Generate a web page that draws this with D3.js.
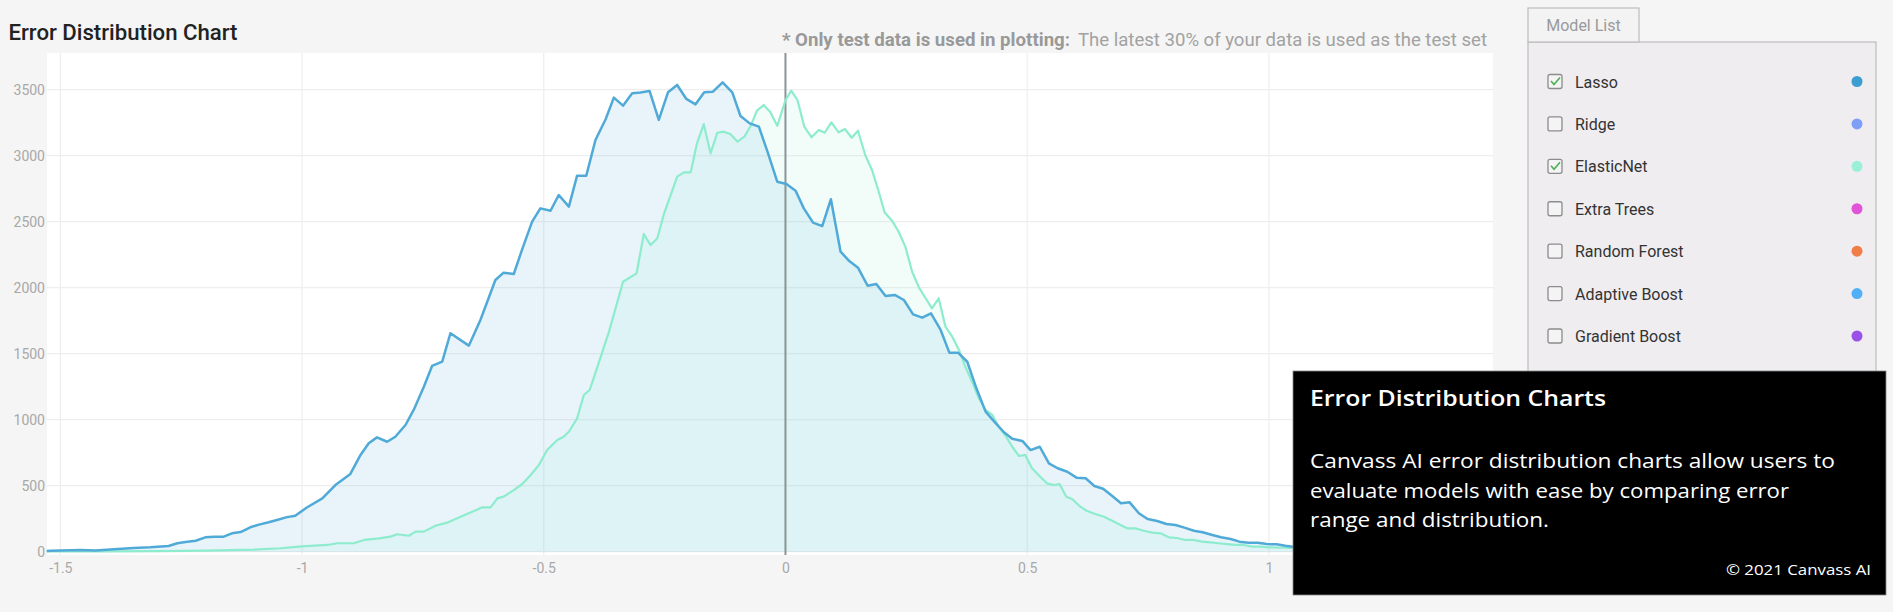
<!DOCTYPE html>
<html>
<head>
<meta charset="utf-8">
<script src="https://cdn.jsdelivr.net/npm/d3@7/dist/d3.min.js"></script>
<style>
  html, body { margin: 0; padding: 0; background: #f5f5f5; }
  svg { display: block; }
</style>
</head>
<body>
<svg id="chart" width="1893" height="612"></svg>
<script>
// ---------- DATA ----------
const xTicks = [-1.5, -1, -0.5, 0, 0.5, 1];
const yTicks = [0, 500, 1000, 1500, 2000, 2500, 3000, 3500];

const lassoErr = [-1.528,-1.520,-1.458,-1.427,-1.389,-1.348,-1.314,-1.276,-1.258,-1.241,-1.220,-1.200,-1.182,-1.162,-1.145,-1.127,-1.107,-1.089,-1.069,-1.052,-1.031,-1.014,-0.990,-0.958,-0.931,-0.900,-0.879,-0.862,-0.845,-0.824,-0.807,-0.786,-0.769,-0.748,-0.731,-0.710,-0.693,-0.655,-0.631,-0.600,-0.583,-0.562,-0.545,-0.524,-0.507,-0.486,-0.469,-0.448,-0.431,-0.412,-0.393,-0.372,-0.355,-0.336,-0.317,-0.300,-0.281,-0.262,-0.243,-0.224,-0.205,-0.186,-0.168,-0.150,-0.130,-0.110,-0.093,-0.074,-0.055,-0.036,-0.017,0.002,0.021,0.038,0.057,0.076,0.094,0.114,0.132,0.150,0.170,0.188,0.207,0.226,0.245,0.264,0.283,0.301,0.321,0.339,0.357,0.376,0.395,0.414,0.432,0.452,0.469,0.490,0.507,0.526,0.545,0.563,0.583,0.602,0.621,0.639,0.657,0.676,0.694,0.712,0.731,0.749,0.769,0.788,0.807,0.825,0.845,0.863,0.883,0.901,0.921,0.939,0.958,0.977,0.996,1.016,1.034,1.050,1.070,1.100,1.140,1.180,1.220,1.260,1.300,1.340,1.380,1.420,1.465];
const lassoCount = [5,8,13,10,18,28,33,43,64,73,83,109,114,114,139,149,185,205,223,240,262,272,335,404,505,589,733,821,866,833,871,960,1074,1250,1407,1440,1655,1561,1755,2058,2114,2104,2286,2500,2601,2583,2702,2614,2849,2849,3119,3276,3440,3379,3473,3478,3490,3271,3480,3536,3430,3389,3480,3485,3556,3480,3301,3245,3220,3018,2803,2786,2735,2601,2493,2467,2670,2273,2202,2152,2015,2028,1937,1945,1907,1798,1773,1806,1680,1508,1508,1439,1238,1061,985,905,855,839,770,795,669,632,606,561,556,498,477,422,367,374,291,248,233,210,202,182,159,147,127,109,96,76,68,68,58,56,45,38,34,28,22,18,14,11,9,7,5,4,3];

const elasticErr = [-1.528,-1.400,-1.300,-1.200,-1.100,-1.045,-1.000,-0.948,-0.927,-0.893,-0.872,-0.841,-0.817,-0.803,-0.779,-0.765,-0.748,-0.724,-0.700,-0.672,-0.648,-0.627,-0.610,-0.596,-0.583,-0.562,-0.545,-0.527,-0.510,-0.493,-0.472,-0.459,-0.448,-0.431,-0.417,-0.405,-0.390,-0.365,-0.336,-0.308,-0.293,-0.279,-0.265,-0.252,-0.224,-0.210,-0.196,-0.183,-0.169,-0.155,-0.141,-0.128,-0.114,-0.099,-0.085,-0.071,-0.059,-0.045,-0.031,-0.017,0.000,0.012,0.025,0.039,0.054,0.069,0.081,0.095,0.110,0.123,0.137,0.150,0.165,0.179,0.193,0.205,0.221,0.234,0.248,0.262,0.276,0.290,0.303,0.317,0.331,0.345,0.359,0.372,0.386,0.400,0.414,0.428,0.441,0.455,0.469,0.483,0.496,0.510,0.527,0.541,0.555,0.567,0.581,0.593,0.610,0.624,0.641,0.659,0.676,0.693,0.707,0.724,0.741,0.759,0.776,0.793,0.810,0.827,0.845,0.862,0.879,0.896,0.914,0.931,0.948,0.965,0.983,1.000,1.034,1.100,1.200,1.300,1.400,1.465];
const elasticCount = [2,3,5,8,15,26,40,51,64,64,89,101,114,132,121,152,152,197,220,265,303,336,336,404,417,467,511,581,657,770,846,871,909,1010,1187,1225,1389,1667,2045,2109,2407,2323,2374,2551,2841,2874,2874,3094,3240,3018,3174,3182,3164,3106,3144,3233,3341,3384,3330,3226,3420,3493,3420,3220,3139,3195,3174,3253,3177,3202,3136,3189,3005,2892,2727,2571,2505,2424,2311,2121,2003,1920,1844,1920,1705,1629,1528,1402,1288,1162,1074,1036,947,880,795,725,733,632,568,518,505,513,417,399,341,308,286,265,235,202,177,177,159,144,139,109,104,89,89,76,71,64,58,51,51,38,38,33,30,20,12,7,4,2];

const models = ["Lasso","Ridge","ElasticNet","Extra Trees","Random Forest","Adaptive Boost","Gradient Boost"];
const modelColors = ["#3a9fd0","#7f9ef5","#9af0d6","#e055d8","#f07d45","#4fb0f5","#9b51e8"];
const modelChecked = [true,false,true,false,false,false,false];

const chartTitle = "Error Distribution Chart";
const noteBold = "* Only test data is used in plotting:";
const noteText = "The latest 30% of your data is used as the test set";
const boxTitle = "Error Distribution Charts";
const boxLines = ["Canvass AI error distribution charts allow users to","evaluate models with ease by comparing error","range and distribution."];
const boxLineWidths = [525, 479, 239];
const boxCopy = "\u00A9 2021 Canvass AI";

// ---------- LAYOUT ----------
const svg = d3.select("#chart");
const plot = {left: 47, right: 1493, top: 53, bottom: 555};

const x = d3.scaleLinear().domain([-1.5, 1]).range([60.3, 1268.9]);
const y = d3.scaleLinear().domain([0, 3500]).range([551.7, 89.7]);

// titles
svg.append("text").attr("x", 8.5).attr("y", 40)
  .attr("font-family", "Roboto").attr("font-weight", 500).attr("font-size", 22)
  .attr("textLength", 229).attr("lengthAdjust", "spacingAndGlyphs")
  .attr("fill", "#222").text(chartTitle);

svg.append("text").attr("x", 782).attr("y", 46)
  .attr("font-family", "Roboto").attr("font-weight", 700).attr("font-size", 18)
  .attr("textLength", 288).attr("lengthAdjust", "spacingAndGlyphs")
  .attr("fill", "#999").text(noteBold);
svg.append("text").attr("x", 1078).attr("y", 46)
  .attr("font-family", "Roboto").attr("font-size", 18)
  .attr("textLength", 409).attr("lengthAdjust", "spacingAndGlyphs")
  .attr("fill", "#a2a2a2").text(noteText);

// plot background
svg.append("rect").attr("x", plot.left).attr("y", plot.top)
  .attr("width", plot.right - plot.left).attr("height", plot.bottom - plot.top)
  .attr("fill", "#ffffff");

// grid
const g = svg.append("g");
g.selectAll(".hg").data(yTicks).join("line")
  .attr("x1", plot.left).attr("x2", plot.right)
  .attr("y1", d => y(d)).attr("y2", d => y(d))
  .attr("stroke", "#eeeeee").attr("stroke-width", 1.2);
g.selectAll(".vg").data(xTicks.filter(d => d !== 0)).join("line")
  .attr("x1", d => x(d)).attr("x2", d => x(d))
  .attr("y1", plot.top).attr("y2", plot.bottom)
  .attr("stroke", "#eeeeee").attr("stroke-width", 1.2);

// axes labels
const yAxis = d3.axisLeft(y).tickValues(yTicks).tickSize(0).tickPadding(0).tickFormat(d3.format("d"));
const ya = svg.append("g").attr("transform", "translate(45,0)").call(yAxis);
ya.select(".domain").remove();
ya.selectAll("text").attr("font-family", "Roboto").attr("font-size", 14).attr("fill", "#a8a8a8");

const xAxis = d3.axisBottom(x).tickValues(xTicks).tickSize(0).tickPadding(0)
  .tickFormat(d => (d < 0 ? "-" : "") + d3.format("")(Math.abs(d)));
const xa = svg.append("g").attr("transform", "translate(0,563)").call(xAxis);
xa.select(".domain").remove();
xa.selectAll("text").attr("font-family", "Roboto").attr("font-size", 14).attr("fill", "#a8a8a8");

// series
const lasso = lassoErr.map((e, i) => [e, lassoCount[i]]);
const elastic = elasticErr.map((e, i) => [e, elasticCount[i]]);
const area = d3.area().x(d => x(d[0])).y0(y(0)).y1(d => y(d[1]));
const line = d3.line().x(d => x(d[0])).y(d => y(d[1]));

svg.append("path").datum(lasso).attr("d", area).attr("fill", "rgba(74,168,216,0.13)");
svg.append("path").datum(elastic).attr("d", area).attr("fill", "rgba(150,240,212,0.12)");

// zero line
svg.append("line").attr("x1", x(0)).attr("x2", x(0)).attr("y1", plot.top).attr("y2", plot.bottom)
  .attr("stroke", "#8a9596").attr("stroke-width", 2);

svg.append("path").datum(elastic).attr("d", line).attr("fill", "none")
  .attr("stroke", "#8deccd").attr("stroke-width", 2.2).attr("stroke-linejoin", "round");
svg.append("path").datum(lasso).attr("d", line).attr("fill", "none")
  .attr("stroke", "#50aad8").attr("stroke-width", 2.5).attr("stroke-linejoin", "round");

// ---------- MODEL LIST ----------
const panel = svg.append("g");
panel.append("rect").attr("x", 1528).attr("y", 42).attr("width", 348).attr("height", 360)
  .attr("fill", "#efedf0").attr("stroke", "#bdbdbd").attr("stroke-width", 1.2);
panel.append("rect").attr("x", 1528).attr("y", 8).attr("width", 111).attr("height", 34)
  .attr("fill", "#f3f3f3").attr("stroke", "#bdbdbd").attr("stroke-width", 1.2);
panel.append("text").attr("x", 1583.5).attr("y", 31).attr("text-anchor", "middle")
  .attr("font-family", "Roboto").attr("font-size", 16).attr("fill", "#9a9a9a").text("Model List");

const itemY = d3.scalePoint().domain(models).range([81.5, 336]);
const items = panel.selectAll(".item").data(models).join("g")
  .attr("transform", d => `translate(0,${itemY(d)})`);
items.append("rect").attr("x", 1548).attr("y", -7).attr("width", 14).attr("height", 14)
  .attr("rx", 2).attr("fill", "#f4f4f4").attr("stroke", "#8c8c8c").attr("stroke-width", 1.3);
items.filter((d, i) => modelChecked[i]).append("path")
  .attr("d", "M1551,-0.5 L1554,3 L1560,-4").attr("fill", "none")
  .attr("stroke", "#4cb050").attr("stroke-width", 1.6);
items.append("text").attr("x", 1575).attr("y", 6)
  .attr("font-family", "Roboto").attr("font-size", 16).attr("fill", "#333").text(d => d);
items.append("circle").attr("cx", 1857).attr("cy", 0).attr("r", 5.5)
  .attr("fill", (d, i) => modelColors[i]);

// ---------- INFO BOX ----------
const box = svg.append("g");
box.append("rect").attr("x", 1293).attr("y", 371).attr("width", 593).attr("height", 224)
  .attr("fill", "#000").attr("stroke", "#888").attr("stroke-width", 0.8);
box.append("text").attr("x", 1310).attr("y", 406)
  .attr("font-family", "Open Sans").attr("font-weight", 600).attr("font-size", 21)
  .attr("textLength", 296).attr("lengthAdjust", "spacingAndGlyphs")
  .attr("fill", "#fff").text(boxTitle);
box.selectAll(".bl").data(boxLines).join("text")
  .attr("x", 1310).attr("y", (d, i) => 468 + i * 29.5)
  .attr("font-family", "Open Sans").attr("font-weight", 400).attr("font-size", 20.5)
  .attr("textLength", (d, i) => boxLineWidths[i]).attr("lengthAdjust", "spacingAndGlyphs")
  .attr("fill", "#fff").text(d => d);
box.append("text").attr("x", 1871).attr("y", 575).attr("text-anchor", "end")
  .attr("font-family", "Open Sans").attr("font-size", 15)
  .attr("textLength", 145).attr("lengthAdjust", "spacingAndGlyphs")
  .attr("fill", "#fff").text(boxCopy);
</script>
</body>
</html>
